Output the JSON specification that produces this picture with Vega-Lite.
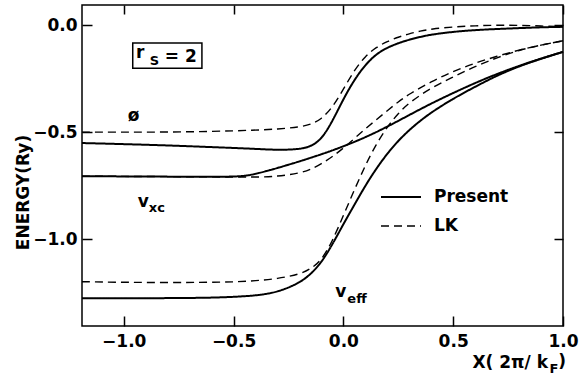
{
  "$schema": "https://vega.github.io/schema/vega-lite/v6.json",
  "width": 481,
  "height": 321,
  "autosize": {"type": "none"},
  "padding": {"left": 82, "top": 5, "right": 17, "bottom": 53},
  "background": "white",
  "config": {
    "view": {"stroke": "black", "strokeWidth": 1.5},
    "axis": {
      "grid": false,
      "domain": false,
      "tickColor": "black",
      "tickWidth": 1.5,
      "labelFont": "DejaVu Sans",
      "labelFontWeight": "bold",
      "labelFontSize": 17,
      "labelColor": "black",
      "titleFont": "DejaVu Sans",
      "titleFontWeight": "bold",
      "titleFontSize": 17,
      "titleColor": "black"
    },
    "text": {"font": "DejaVu Sans", "fontWeight": "bold", "color": "black", "align": "left", "baseline": "alphabetic"}
  },
  "datasets": {
    "curves": [
      {"c":"phi","m":"Present","x":-1.19,"y":-0.551},{"c":"phi","m":"Present","x":-1.0,"y":-0.556},{"c":"phi","m":"Present","x":-0.8,"y":-0.562},{"c":"phi","m":"Present","x":-0.6,"y":-0.570},{"c":"phi","m":"Present","x":-0.4,"y":-0.578},{"c":"phi","m":"Present","x":-0.3,"y":-0.584},{"c":"phi","m":"Present","x":-0.2,"y":-0.58},{"c":"phi","m":"Present","x":-0.15,"y":-0.568},{"c":"phi","m":"Present","x":-0.1,"y":-0.535},{"c":"phi","m":"Present","x":-0.05,"y":-0.45},{"c":"phi","m":"Present","x":0.0,"y":-0.345},{"c":"phi","m":"Present","x":0.05,"y":-0.255},{"c":"phi","m":"Present","x":0.1,"y":-0.185},{"c":"phi","m":"Present","x":0.15,"y":-0.135},{"c":"phi","m":"Present","x":0.2,"y":-0.105},{"c":"phi","m":"Present","x":0.25,"y":-0.084},{"c":"phi","m":"Present","x":0.3,"y":-0.068},{"c":"phi","m":"Present","x":0.35,"y":-0.055},{"c":"phi","m":"Present","x":0.4,"y":-0.044},{"c":"phi","m":"Present","x":0.5,"y":-0.031},{"c":"phi","m":"Present","x":0.6,"y":-0.023},{"c":"phi","m":"Present","x":0.7,"y":-0.018},{"c":"phi","m":"Present","x":0.8,"y":-0.014},{"c":"phi","m":"Present","x":0.9,"y":-0.010},{"c":"phi","m":"Present","x":1.0,"y":-0.008},
      {"c":"phi","m":"LK","x":-1.19,"y":-0.50},{"c":"phi","m":"LK","x":-1.0,"y":-0.50},{"c":"phi","m":"LK","x":-0.8,"y":-0.50},{"c":"phi","m":"LK","x":-0.6,"y":-0.497},{"c":"phi","m":"LK","x":-0.4,"y":-0.491},{"c":"phi","m":"LK","x":-0.3,"y":-0.486},{"c":"phi","m":"LK","x":-0.2,"y":-0.476},{"c":"phi","m":"LK","x":-0.15,"y":-0.465},{"c":"phi","m":"LK","x":-0.1,"y":-0.44},{"c":"phi","m":"LK","x":-0.05,"y":-0.385},{"c":"phi","m":"LK","x":0.0,"y":-0.3},{"c":"phi","m":"LK","x":0.05,"y":-0.21},{"c":"phi","m":"LK","x":0.1,"y":-0.145},{"c":"phi","m":"LK","x":0.15,"y":-0.103},{"c":"phi","m":"LK","x":0.2,"y":-0.076},{"c":"phi","m":"LK","x":0.25,"y":-0.056},{"c":"phi","m":"LK","x":0.3,"y":-0.04},{"c":"phi","m":"LK","x":0.35,"y":-0.028},{"c":"phi","m":"LK","x":0.4,"y":-0.018},{"c":"phi","m":"LK","x":0.5,"y":-0.008},{"c":"phi","m":"LK","x":0.6,"y":-0.003},{"c":"phi","m":"LK","x":0.7,"y":0.0},{"c":"phi","m":"LK","x":0.8,"y":-0.001},{"c":"phi","m":"LK","x":0.9,"y":-0.004},{"c":"phi","m":"LK","x":1.0,"y":-0.008},
      {"c":"vxc","m":"Present","x":-1.19,"y":-0.706},{"c":"vxc","m":"Present","x":-1.0,"y":-0.707},{"c":"vxc","m":"Present","x":-0.8,"y":-0.708},{"c":"vxc","m":"Present","x":-0.6,"y":-0.709},{"c":"vxc","m":"Present","x":-0.5,"y":-0.708},{"c":"vxc","m":"Present","x":-0.45,"y":-0.705},{"c":"vxc","m":"Present","x":-0.4,"y":-0.696},{"c":"vxc","m":"Present","x":-0.3,"y":-0.668},{"c":"vxc","m":"Present","x":-0.2,"y":-0.637},{"c":"vxc","m":"Present","x":-0.1,"y":-0.604},{"c":"vxc","m":"Present","x":0.0,"y":-0.567},{"c":"vxc","m":"Present","x":0.1,"y":-0.525},{"c":"vxc","m":"Present","x":0.2,"y":-0.475},{"c":"vxc","m":"Present","x":0.3,"y":-0.42},{"c":"vxc","m":"Present","x":0.4,"y":-0.366},{"c":"vxc","m":"Present","x":0.5,"y":-0.317},{"c":"vxc","m":"Present","x":0.6,"y":-0.270},{"c":"vxc","m":"Present","x":0.7,"y":-0.228},{"c":"vxc","m":"Present","x":0.8,"y":-0.19},{"c":"vxc","m":"Present","x":0.9,"y":-0.156},{"c":"vxc","m":"Present","x":1.0,"y":-0.125},
      {"c":"vxc","m":"LK","x":-1.19,"y":-0.706},{"c":"vxc","m":"LK","x":-1.0,"y":-0.707},{"c":"vxc","m":"LK","x":-0.8,"y":-0.708},{"c":"vxc","m":"LK","x":-0.6,"y":-0.709},{"c":"vxc","m":"LK","x":-0.4,"y":-0.711},{"c":"vxc","m":"LK","x":-0.3,"y":-0.707},{"c":"vxc","m":"LK","x":-0.2,"y":-0.692},{"c":"vxc","m":"LK","x":-0.15,"y":-0.675},{"c":"vxc","m":"LK","x":-0.1,"y":-0.648},{"c":"vxc","m":"LK","x":-0.05,"y":-0.615},{"c":"vxc","m":"LK","x":0.0,"y":-0.575},{"c":"vxc","m":"LK","x":0.05,"y":-0.53},{"c":"vxc","m":"LK","x":0.1,"y":-0.485},{"c":"vxc","m":"LK","x":0.15,"y":-0.442},{"c":"vxc","m":"LK","x":0.2,"y":-0.4},{"c":"vxc","m":"LK","x":0.25,"y":-0.358},{"c":"vxc","m":"LK","x":0.3,"y":-0.322},{"c":"vxc","m":"LK","x":0.4,"y":-0.264},{"c":"vxc","m":"LK","x":0.5,"y":-0.216},{"c":"vxc","m":"LK","x":0.6,"y":-0.177},{"c":"vxc","m":"LK","x":0.7,"y":-0.145},{"c":"vxc","m":"LK","x":0.8,"y":-0.116},{"c":"vxc","m":"LK","x":0.9,"y":-0.093},{"c":"vxc","m":"LK","x":1.0,"y":-0.073},
      {"c":"veff","m":"Present","x":-1.19,"y":-1.276},{"c":"veff","m":"Present","x":-1.0,"y":-1.276},{"c":"veff","m":"Present","x":-0.8,"y":-1.276},{"c":"veff","m":"Present","x":-0.6,"y":-1.274},{"c":"veff","m":"Present","x":-0.5,"y":-1.27},{"c":"veff","m":"Present","x":-0.4,"y":-1.264},{"c":"veff","m":"Present","x":-0.3,"y":-1.249},{"c":"veff","m":"Present","x":-0.2,"y":-1.205},{"c":"veff","m":"Present","x":-0.15,"y":-1.165},{"c":"veff","m":"Present","x":-0.1,"y":-1.11},{"c":"veff","m":"Present","x":-0.05,"y":-1.025},{"c":"veff","m":"Present","x":0.0,"y":-0.93},{"c":"veff","m":"Present","x":0.05,"y":-0.84},{"c":"veff","m":"Present","x":0.1,"y":-0.75},{"c":"veff","m":"Present","x":0.15,"y":-0.67},{"c":"veff","m":"Present","x":0.2,"y":-0.6},{"c":"veff","m":"Present","x":0.25,"y":-0.54},{"c":"veff","m":"Present","x":0.3,"y":-0.49},{"c":"veff","m":"Present","x":0.35,"y":-0.447},{"c":"veff","m":"Present","x":0.4,"y":-0.408},{"c":"veff","m":"Present","x":0.5,"y":-0.343},{"c":"veff","m":"Present","x":0.6,"y":-0.288},{"c":"veff","m":"Present","x":0.7,"y":-0.235},{"c":"veff","m":"Present","x":0.8,"y":-0.192},{"c":"veff","m":"Present","x":0.9,"y":-0.157},{"c":"veff","m":"Present","x":1.0,"y":-0.125},
      {"c":"veff","m":"LK","x":-1.19,"y":-1.199},{"c":"veff","m":"LK","x":-1.0,"y":-1.202},{"c":"veff","m":"LK","x":-0.8,"y":-1.203},{"c":"veff","m":"LK","x":-0.6,"y":-1.202},{"c":"veff","m":"LK","x":-0.5,"y":-1.2},{"c":"veff","m":"LK","x":-0.4,"y":-1.195},{"c":"veff","m":"LK","x":-0.3,"y":-1.185},{"c":"veff","m":"LK","x":-0.2,"y":-1.165},{"c":"veff","m":"LK","x":-0.15,"y":-1.14},{"c":"veff","m":"LK","x":-0.1,"y":-1.1},{"c":"veff","m":"LK","x":-0.05,"y":-1.01},{"c":"veff","m":"LK","x":0.0,"y":-0.89},{"c":"veff","m":"LK","x":0.05,"y":-0.77},{"c":"veff","m":"LK","x":0.1,"y":-0.655},{"c":"veff","m":"LK","x":0.15,"y":-0.555},{"c":"veff","m":"LK","x":0.2,"y":-0.475},{"c":"veff","m":"LK","x":0.25,"y":-0.412},{"c":"veff","m":"LK","x":0.3,"y":-0.362},{"c":"veff","m":"LK","x":0.4,"y":-0.292},{"c":"veff","m":"LK","x":0.5,"y":-0.243},{"c":"veff","m":"LK","x":0.6,"y":-0.192},{"c":"veff","m":"LK","x":0.7,"y":-0.152},{"c":"veff","m":"LK","x":0.8,"y":-0.117},{"c":"veff","m":"LK","x":0.9,"y":-0.093},{"c":"veff","m":"LK","x":1.0,"y":-0.073}
    ],
    "box": [{"x1": -0.959, "x2": -0.644, "y1": -0.084, "y2": -0.201}],
    "labels": [
      {"t": "r", "x": -0.944, "y": -0.154, "role": "main"},
      {"t": "= 2", "x": -0.813, "y": -0.173, "role": "main"},
      {"t": "ø", "x": -0.982, "y": -0.449, "role": "main"},
      {"t": "v", "x": -0.936, "y": -0.850, "role": "main"},
      {"t": "v", "x": -0.037, "y": -1.271, "role": "main"},
      {"t": ")", "x": 0.978, "y": -1.598, "role": "main"},
      {"t": "S", "x": -0.881, "y": -0.187, "role": "sub"},
      {"t": "xc", "x": -0.886, "y": -0.874, "role": "sub"},
      {"t": "eff", "x": 0.018, "y": -1.299, "role": "sub"},
      {"t": "F", "x": 0.938, "y": -1.626, "role": "sub"}
    ]
  },
  "layer": [
    {
      "data": {"name": "curves"},
      "mark": {"type": "line", "interpolate": "basis", "color": "black"},
      "encoding": {
        "x": {"field": "x", "type": "quantitative", "scale": {"domain": [-1.19, 1.0], "nice": false, "zero": false},
          "axis": {"orient": "bottom", "values": [-1, -0.5, 0, 0.5, 1], "format": ".1f", "tickSize": -10, "labelPadding": 17, "labelFlush": false,
            "title": "X( 2π/ k", "titleX": 390, "titleY": 41, "titleAlign": "left", "titleBaseline": "alphabetic", "titleAnchor": "start"}},
        "y": {"field": "y", "type": "quantitative", "scale": {"domain": [-1.406, 0.094], "nice": false, "zero": false},
          "axis": {"orient": "left", "values": [0, -0.5, -1], "format": ".1f", "tickSize": -10, "labelPadding": 15, "labelFlush": false,
            "title": "ENERGY(Ry)", "titleX": -54, "titleY": 187, "titleAngle": -90, "titleAlign": "center", "titleBaseline": "alphabetic"}},
        "detail": {"field": "c"},
        "strokeDash": {"field": "m", "type": "nominal", "scale": {"domain": ["Present", "LK"], "range": [[1, 0], [8, 5]]},
          "legend": {"title": null, "orient": "none", "legendX": 298, "legendY": 171, "symbolType": "stroke", "symbolSize": 1600,
            "symbolStrokeColor": "black", "symbolStrokeWidth": 2, "labelFont": "DejaVu Sans", "labelFontSize": 17, "labelFontWeight": "bold",
            "labelColor": "black", "labelOffset": 12, "padding": 0, "rowPadding": -3}},
        "strokeWidth": {"field": "m", "type": "nominal", "scale": {"domain": ["Present", "LK"], "range": [2, 1.4]}, "legend": null}
      }
    },
    {
      "data": {"name": "box"},
      "mark": {"type": "rect", "fill": "white", "fillOpacity": 0, "stroke": "black", "strokeWidth": 1.5},
      "encoding": {
        "x": {"field": "x1", "type": "quantitative", "axis": {"orient": "top", "values": [-1, -0.5, 0, 0.5, 1], "labels": false, "title": null, "tickSize": -9}},
        "x2": {"field": "x2"},
        "y": {"field": "y1", "type": "quantitative", "axis": {"orient": "right", "values": [0, -0.5, -1], "labels": false, "title": null, "tickSize": -9}},
        "y2": {"field": "y2"}
      }
    },
    {
      "data": {"name": "labels"},
      "transform": [{"filter": "datum.role === 'main'"}],
      "mark": {"type": "text", "fontSize": 17},
      "encoding": {
        "x": {"field": "x", "type": "quantitative", "axis": null},
        "y": {"field": "y", "type": "quantitative", "axis": null},
        "text": {"field": "t"}
      }
    },
    {
      "data": {"name": "labels"},
      "transform": [{"filter": "datum.role === 'sub'"}],
      "mark": {"type": "text", "fontSize": 13},
      "encoding": {
        "x": {"field": "x", "type": "quantitative", "axis": null},
        "y": {"field": "y", "type": "quantitative", "axis": null},
        "text": {"field": "t"}
      }
    }
  ],
  "resolve": {"axis": {"x": "independent", "y": "independent"}}
}
